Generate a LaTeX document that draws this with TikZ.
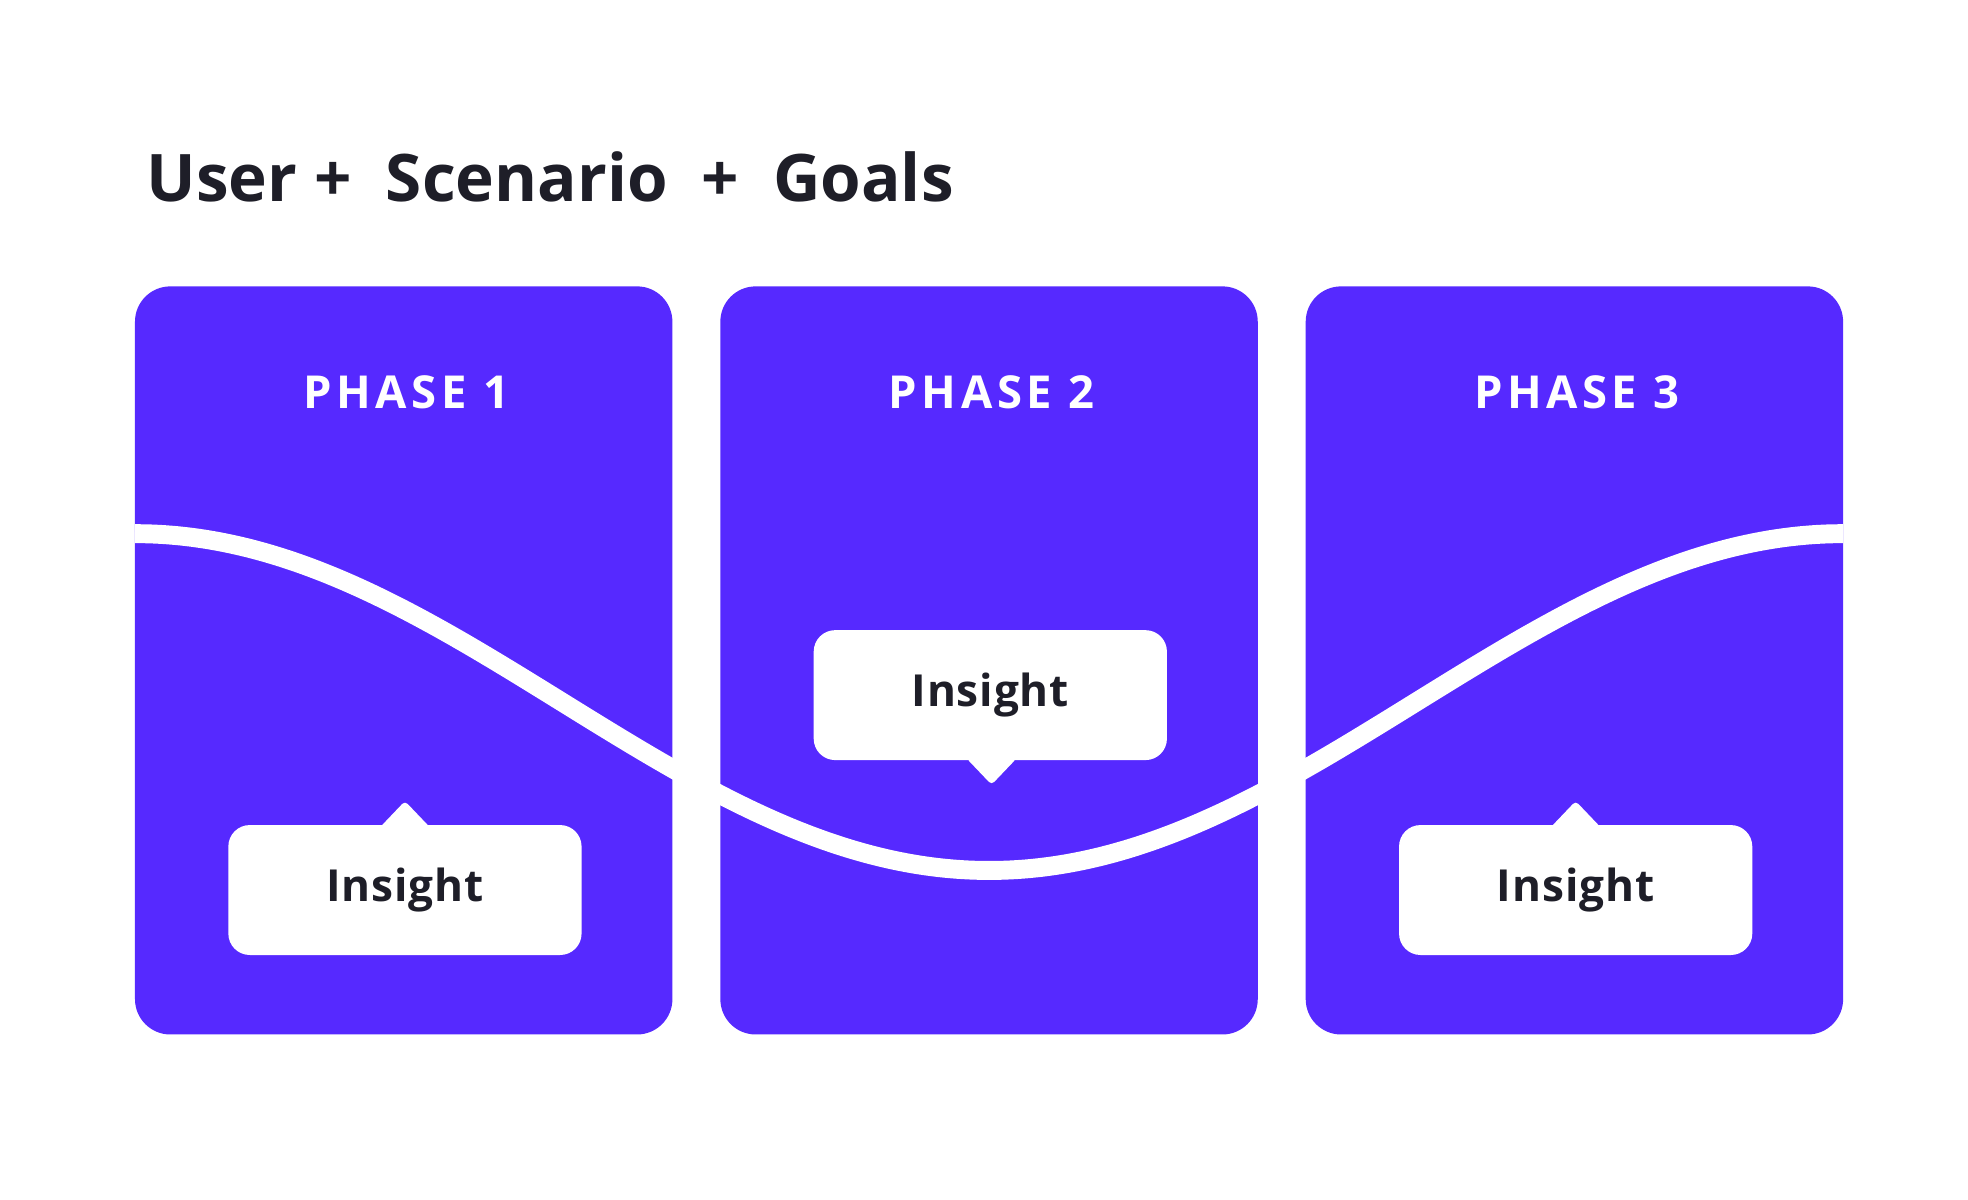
\documentclass[tikz,border=0pt]{standalone}
\usepackage{fontspec}
\setmainfont{Open Sans}
\definecolor{vio}{HTML}{5629FF}
\definecolor{ink}{HTML}{1E1E28}
\begin{document}
\begin{tikzpicture}[x=1pt,y=-1pt,
  card/.style={fill=vio,rounded corners=28pt,minimum width=426pt,minimum height=593pt,inner sep=0pt},
  bubble/.style={fill=white,rounded corners=17pt,minimum width=280pt,minimum height=103pt,inner sep=0pt,text=ink,font=\fontsize{35}{40}\selectfont\bfseries\addfontfeature{LetterSpace=2}},
  phase/.style={text=white,font=\fontsize{36}{44}\selectfont\bfseries\addfontfeature{LetterSpace=10}}]
\useasboundingbox (0,0) rectangle (1560,951);
\node[card] (c1) at (320,523.5) {};
\node[card] (c2) at (784,523.5) {};
\node[card] (c3) at (1248,523.5) {};
\node[phase] (p1) at (322,311) {PHASE 1};
\node[phase] (p2) at (786,311) {PHASE 2};
\node[phase] (p3) at (1250,311) {PHASE 3};
\draw[white,line width=15pt] plot[domain=107:1461,samples=120,smooth] (\x,{556.5-133.5*cos((\x-107)/1354*360)});
\fill[white,rounded corners=3pt] (301,656) -- (321,635) -- (341,656) -- cycle;
\fill[white,rounded corners=3pt] (766,601) -- (786,622) -- (806,601) -- cycle;
\fill[white,rounded corners=3pt] (1229,656) -- (1249,635) -- (1269,656) -- cycle;
\node[bubble] (i1) at (321,705.5) {Insight};
\node[bubble] (i2) at (785,551) {Insight};
\node[bubble] (i3) at (1249,705.5) {Insight};
\node[anchor=base west,text=ink,font=\fontsize{52}{60}\selectfont\bfseries,inner sep=0pt] (t) at (116,160) {User +\ \ Scenario\ \ +\ \ Goals};
\end{tikzpicture}
\end{document}
